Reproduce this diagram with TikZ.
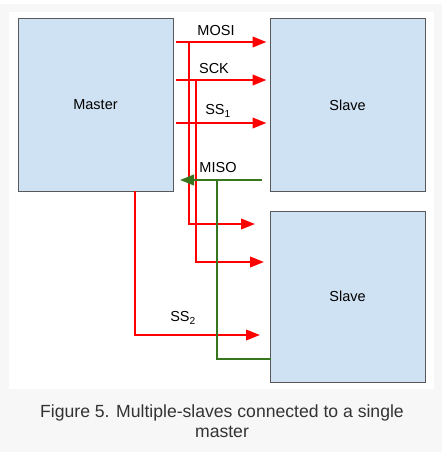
\documentclass[tikz,border=0pt]{standalone}
\usepackage{fontspec}
\setmainfont{Liberation Sans}
\usetikzlibrary{arrows.meta}
\definecolor{boxblue}{HTML}{CFE2F3}
\definecolor{boxline}{HTML}{595959}
\definecolor{misogreen}{HTML}{38761D}
\definecolor{pagegray}{HTML}{F7F7F7}
\definecolor{captiongray}{HTML}{333333}
\begin{document}
\begin{tikzpicture}[
              x = 1pt, y = -1pt,
              box/.style = {draw = boxline, line width = 1pt, fill = boxblue,
                            minimum width = 155pt, minimum height = 172pt,
                            inner sep = 0pt, font = \fontsize{14.5}{16}\selectfont},
              wire/.style = {line width = 2.2pt},
              tip/.style = {-{Triangle[length = 14pt, width = 10.5pt]}},
              sig/.style = {wire, red, tip},
              lbl/.style = {inner sep = 0pt, font = \fontsize{14.5}{16}\selectfont}
            ]
            % frame
            \useasboundingbox (0, 0) rectangle (447, 452);
            \fill[pagegray] (0, 4) rectangle (442, 452);
            \fill[white] (9, 12) rectangle (434, 389);
            % nodes
            \node[box] (master) at (95.5, 105)   {Master};
            \node[box] (slave1) at (347.5, 105)  {Slave};
            \node[box, minimum height = 171pt] (slave2) at (347.5, 296.5) {Slave};
            % branch points and free ends
            \coordinate (mosi)  at (176, 42);
            \coordinate (sck)   at (176, 80);
            \coordinate (ss1)   at (176, 123);
            \coordinate (br1)   at (189, 42);
            \coordinate (br2)   at (196, 80);
            \coordinate (end1)  at (255, 224);
            \coordinate (end2)  at (264, 262);
            \coordinate (misoR) at (262, 180);
            \coordinate (misoL) at (180, 180);
            \coordinate (brg)   at (217, 180);
            \coordinate (ss2)   at (135, 191);
            \coordinate (end3)  at (260, 335);
            % master to first slave
            \draw[sig] (mosi) -- ([xshift = -3pt]slave1.west |- mosi);
            \draw[sig] (sck)  -- ([xshift = -3pt]slave1.west |- sck);
            \draw[sig] (ss1)  -- ([xshift = -3pt]slave1.west |- ss1);
            % shared lines to second slave
            \draw[sig] (br1) |- (end1);
            \draw[sig] (br2) |- (end2);
            \draw[sig] (ss2) |- (end3);
            % MISO
            \draw[wire, misogreen, tip] (misoR) -- (misoL);
            \draw[wire, misogreen] (brg) |- ([xshift = 1pt]slave2.west |- 0, 359);
            % labels
            \node[lbl] (lmosi) at (216, 31)  {MOSI};
            \node[lbl] (lsck)  at (214, 69)  {SCK};
            \node[lbl] (lss1)  at (218, 111) {SS\textsubscript{1}};
            \node[lbl] (lmiso) at (218, 168) {MISO};
            \node[lbl] (lss2)  at (183, 318) {SS\textsubscript{2}};
            % caption
            \node[align = center, text = captiongray, inner sep = 0pt,
                  font = \fontsize{17.6}{20}\selectfont] (caption) at (222, 421)
                  {Figure 5. Multiple-slaves connected to a single\\master};
          \end{tikzpicture}
\end{document}
